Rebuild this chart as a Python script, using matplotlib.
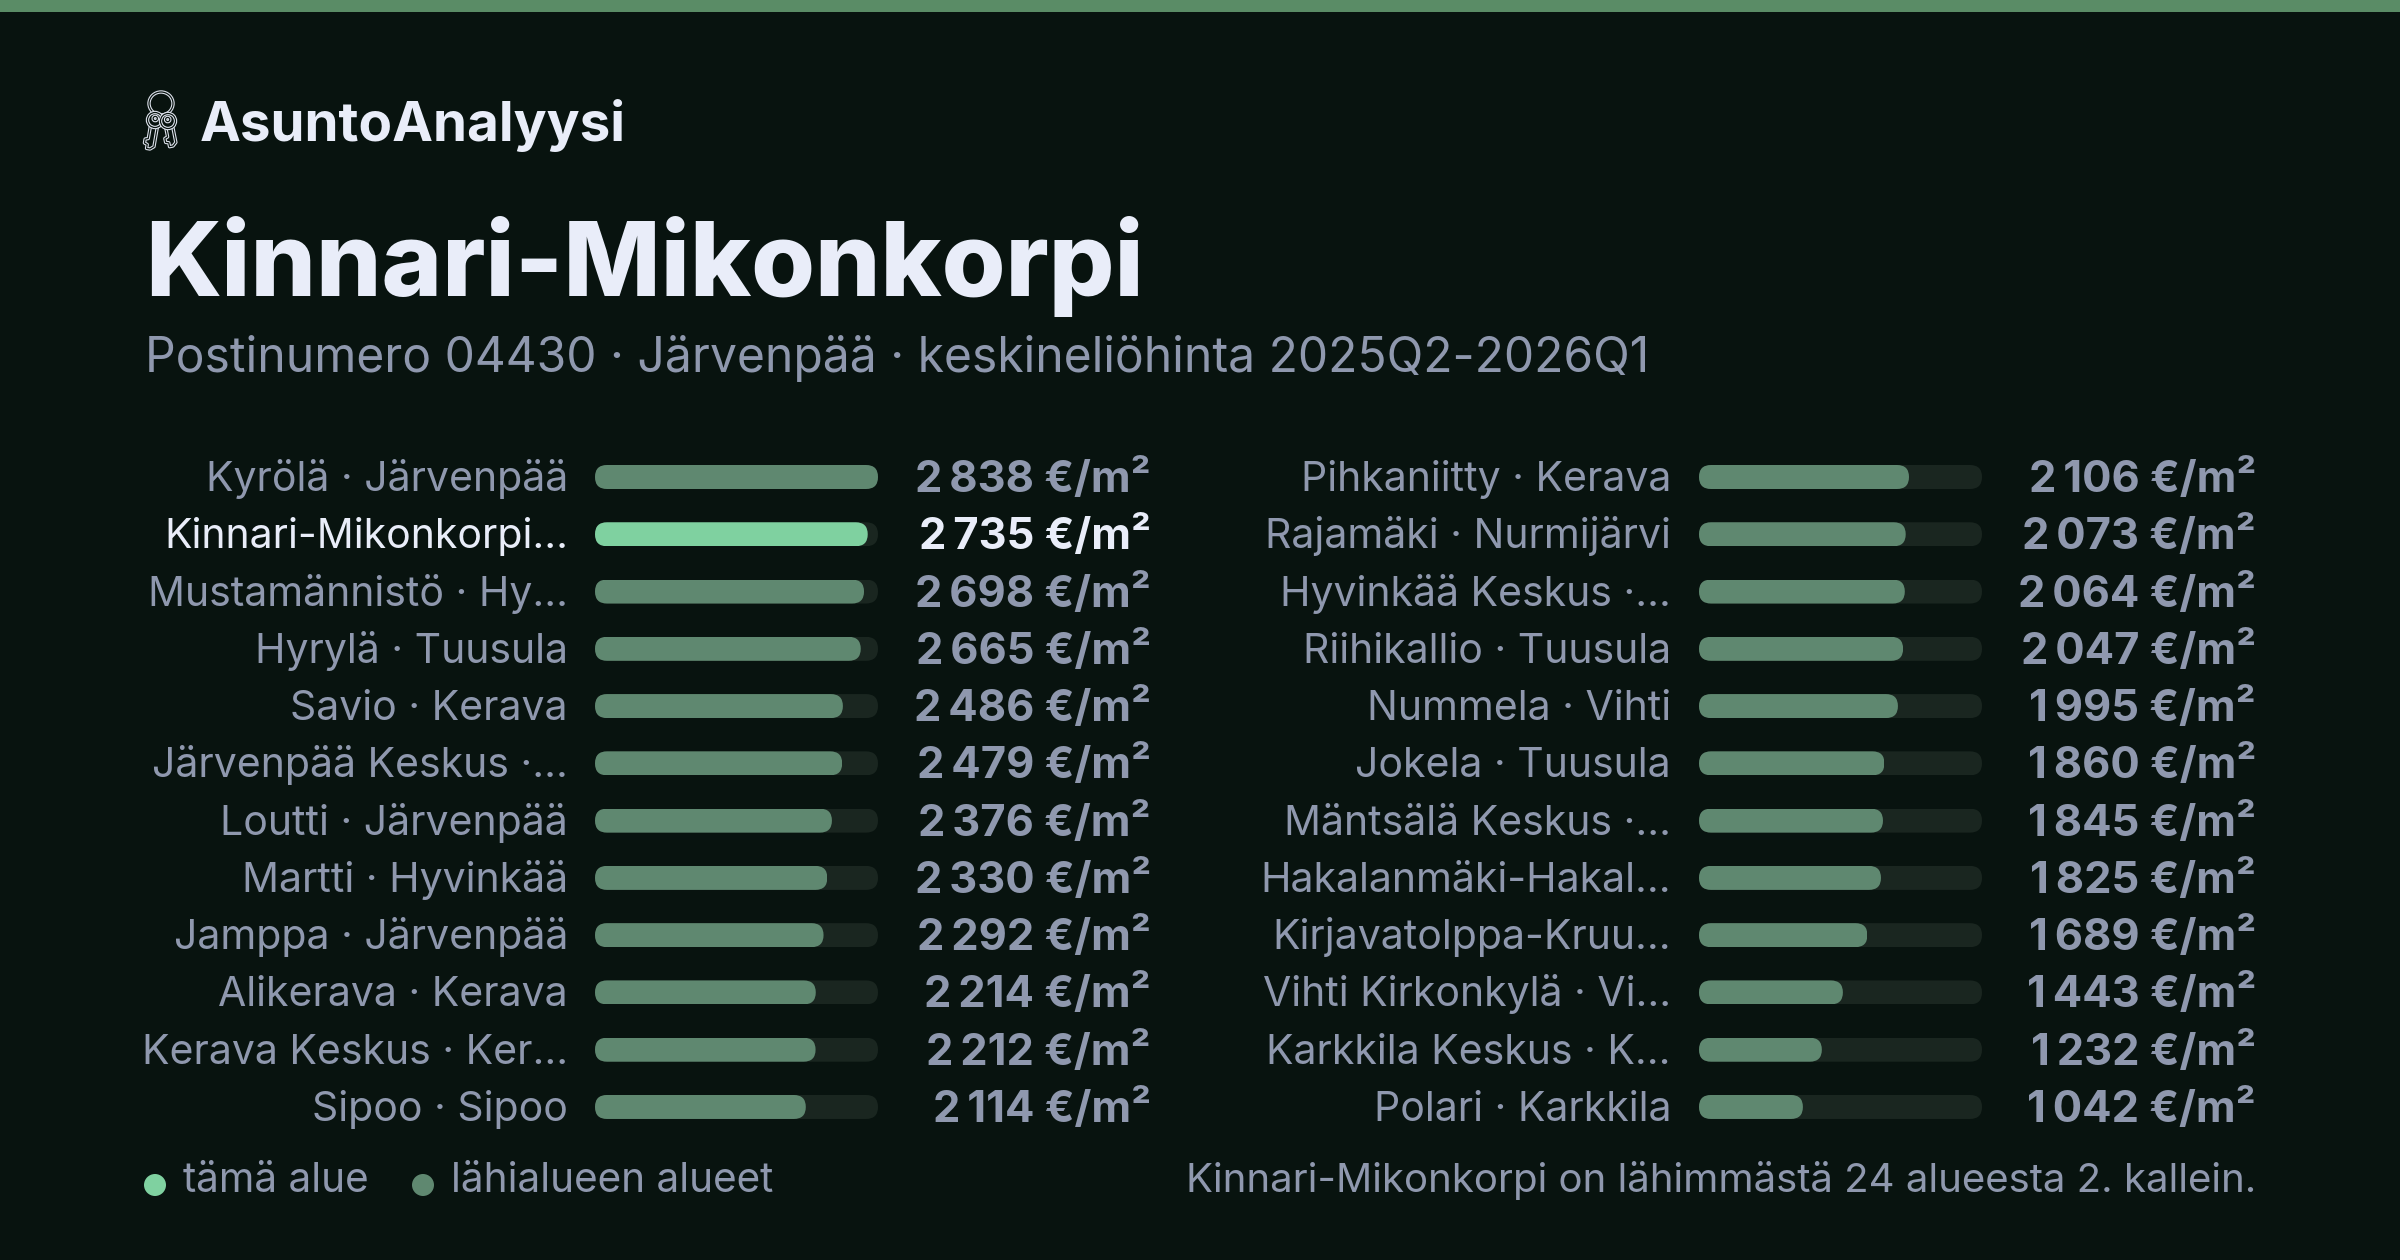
import matplotlib
matplotlib.use("Agg")
import matplotlib.pyplot as plt
from matplotlib.patches import FancyBboxPatch, Rectangle, Circle, Ellipse, Polygon
import numpy as np

W, H = 2400, 1260
BG = "#08130F"
TOP = "#5A8C66"
TITLE = "#E9EDF9"
MUTED = "#8F98AE"
BAR = "#5F8870"
HI = "#7FD1A0"
TRACK = "#1A2620"
ICON = "#DDE2EC"
FONT = "Inter"

left_labels = ["Kyrölä · Järvenpää", "Kinnari-Mikonkorpi…", "Mustamännistö · Hy…", "Hyrylä · Tuusula",
               "Savio · Kerava", "Järvenpää Keskus ·…", "Loutti · Järvenpää", "Martti · Hyvinkää",
               "Jamppa · Järvenpää", "Alikerava · Kerava", "Kerava Keskus · Ker…", "Sipoo · Sipoo"]
left_values = [2838, 2735, 2698, 2665, 2486, 2479, 2376, 2330, 2292, 2214, 2212, 2114]
right_labels = ["Pihkaniitty · Kerava", "Rajamäki · Nurmijärvi", "Hyvinkää Keskus ·…", "Riihikallio · Tuusula",
                "Nummela · Vihti", "Jokela · Tuusula", "Mäntsälä Keskus ·…", "Hakalanmäki-Hakal…",
                "Kirjavatolppa-Kruu…", "Vihti Kirkonkylä · Vi…", "Karkkila Keskus · K…", "Polari · Karkkila"]
right_values = [2106, 2073, 2064, 2047, 1995, 1860, 1845, 1825, 1689, 1443, 1232, 1042]
highlight = "Kinnari-Mikonkorpi…"
scale_max = 2838

fig = plt.figure(figsize=(W / 100, H / 100), dpi=100, facecolor=BG)
bg = fig.add_axes([0, 0, 1, 1])
bg.set_xlim(0, W); bg.set_ylim(H, 0); bg.axis("off")
bg.add_patch(Rectangle((0, 0), W, 12, color=TOP, lw=0))

def T(x, y, s, px, color=MUTED, ha="left", weight="normal"):
    return bg.text(x, y, s, fontsize=px * 0.72, color=color, ha=ha, va="baseline",
                   family=FONT, fontweight=weight)

def dbl(make):
    """Draw an outline twice so that it reads as a double line."""
    bg.add_patch(make(dict(fc=BG, ec=ICON, lw=3.4 * 0.72)))
    bg.add_patch(make(dict(fc="none", ec=BG, lw=1.2 * 0.72)))

def key(cx, cy, tx, ty, r):
    ang = np.arctan2(ty - cy, tx - cx)
    L = np.hypot(tx - cx, ty - cy)
    w = 7.0
    u = np.array([r - 1.5, L - 3, L, L, L - 4, L - 5, L - 9, L - 10, r - 1.5])
    v = np.array([-w / 2, -w / 2, 0, w / 2, w / 2, w / 2 + 3, w / 2 + 3, w / 2, w / 2])
    xs = cx + u * np.cos(ang) - v * np.sin(ang)
    ys = cy + u * np.sin(ang) + v * np.cos(ang)
    dbl(lambda k: Polygon(np.column_stack([xs, ys]), closed=True, joinstyle="round", **k))
    dbl(lambda k: Circle((cx, cy), r, **k))
    dbl(lambda k: Circle((cx + 1.5 * np.cos(ang + 3.14), cy + 1.5 * np.sin(ang + 3.14)), r * 0.28, **k))

# icon: ring with two keys
dbl(lambda k: Ellipse((161, 103.5), 24, 23, **k))
key(155, 120, 150, 149, 7.5)
key(168, 121, 173, 146, 7.5)

T(200, 141, "AsuntoAnalyysi", 54.8, TITLE, weight="bold")
T(145, 296, "Kinnari-Mikonkorpi", 103.2, TITLE, weight=800)
T(145, 372, "Postinumero 04430 · Järvenpää · keskineliöhinta 2025Q2-2026Q1", 48)

PITCH = 57.27
TOPY = 477 - PITCH / 2
BH = 24 / PITCH

def fmt(v):
    return f"{v:,}".replace(",", "\u2009") + " €/m²"

def column(x0, lx, vx, labels, values):
    ax = fig.add_axes([x0 / W, 1 - (TOPY + 12 * PITCH) / H, 283 / W, 12 * PITCH / H])
    ax.set_xlim(0, scale_max); ax.set_ylim(11.5, -0.5); ax.axis("off"); ax.patch.set_alpha(0)
    rows = np.arange(len(values))
    asp = (12 / PITCH) / (12 / 283 * scale_max)
    rs = 12 / 283 * scale_max
    def rounded(bars):
        for b in bars:
            clip = FancyBboxPatch((b.get_x(), b.get_y()), b.get_width(), b.get_height(),
                                  boxstyle=f"round,pad=0,rounding_size={rs}", mutation_aspect=asp,
                                  transform=ax.transData, lw=0)
            b.set_clip_path(clip)
    rounded(ax.barh(rows, [scale_max] * len(values), height=BH, color=TRACK, lw=0))
    cols = [HI if l == highlight else BAR for l in labels]
    rounded(ax.barh(rows, values, height=BH, color=cols, lw=0))
    for i, (l, v) in enumerate(zip(labels, values)):
        y = 477 + i * PITCH + 14
        hi = l == highlight
        T(lx, y, l, 41.0, TITLE if hi else MUTED, ha="right")
        T(vx, y + 1, fmt(v), 43.5, TITLE if hi else MUTED, ha="right", weight="bold")

column(595, 568, 1151, left_labels, left_values)
column(1699, 1671, 2256, right_labels, right_values)

bg.add_patch(Circle((155, 1185), 11, color=HI, lw=0))
T(183, 1192, "tämä alue", 40.5)
bg.add_patch(Circle((423, 1185), 11, color=BAR, lw=0))
T(451, 1192, "lähialueen alueet", 40.5)
T(2256, 1192, "Kinnari-Mikonkorpi on lähimmästä 24 alueesta 2. kallein.", 40.2, ha="right")

fig.savefig("out.png", dpi=100, facecolor=BG)
